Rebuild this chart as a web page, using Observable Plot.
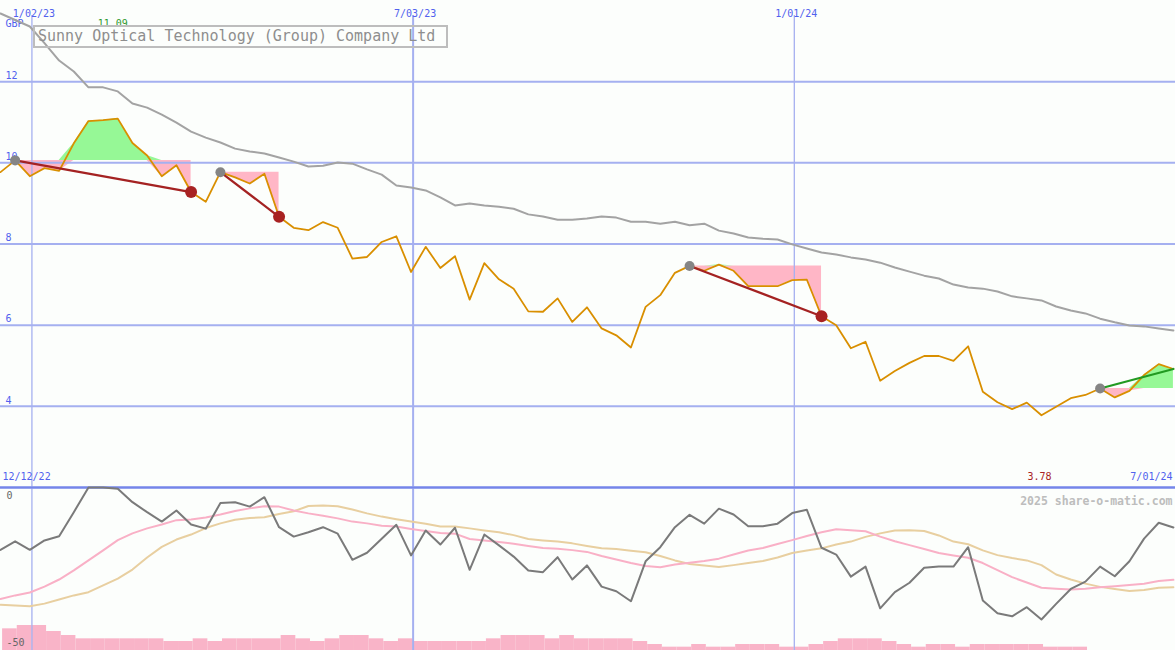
<!DOCTYPE html>
<html><head><meta charset="utf-8">
<script src="https://cdn.jsdelivr.net/npm/d3@7"></script>
<script src="https://cdn.jsdelivr.net/npm/@observablehq/plot@0.6"></script>
<style>
body{margin:0;background:#fcfefc;}
#chart{position:relative;width:1175px;height:650px;background:#fcfefc;overflow:hidden;}
#chart svg{position:absolute;left:0;}
#title{position:absolute;left:33px;top:25px;width:408px;height:19px;border:2px solid #bdbdbd;color:#8e8e8e;font:15px "DejaVu Sans Mono",monospace;line-height:19px;padding-left:3px;white-space:pre;}
</style></head><body><div id="chart"></div>
<script>
// ---- data (weekly, first week 18 Dec 2022) ----
const companyName = "Sunny Optical Technology (Group) Company Ltd";
const currency = "GBP";
const firstWeek = "2022-12-18";
const lastDay = "2024-07-01";
const prices = [9.77,10.06,9.67,9.87,9.80,10.48,11.03,11.05,11.09,10.49,
 10.18,9.67,9.94,9.28,9.04,9.77,9.64,9.49,9.73,8.67,
 8.40,8.34,8.54,8.40,7.64,7.68,8.05,8.19,7.31,7.93,
 7.41,7.70,6.63,7.53,7.13,6.90,6.34,6.33,6.66,6.08,
 6.44,5.92,5.75,5.45,6.45,6.74,7.29,7.46,7.34,7.49,
 7.34,6.96,6.96,6.96,7.11,7.12,6.22,6.00,5.43,5.59,
 4.63,4.87,5.07,5.24,5.24,5.12,5.48,4.36,4.10,3.93,
 4.09,3.78,3.99,4.20,4.28,4.44,4.22,4.38,4.77,5.04,
 4.92];
const movingAvg = [13.68,13.52,13.36,12.95,12.52,12.25,11.86,11.86,11.76,11.46,
 11.36,11.19,10.99,10.77,10.62,10.50,10.35,10.28,10.23,10.13,
 10.03,9.91,9.93,10.01,9.98,9.84,9.71,9.44,9.39,9.32,
 9.15,8.95,9.00,8.95,8.92,8.87,8.73,8.68,8.60,8.60,
 8.63,8.68,8.65,8.55,8.55,8.50,8.55,8.46,8.50,8.33,
 8.26,8.16,8.13,8.11,7.99,7.89,7.79,7.74,7.67,7.62,
 7.54,7.42,7.32,7.22,7.15,7.00,6.93,6.90,6.83,6.71,
 6.66,6.61,6.46,6.36,6.29,6.16,6.07,5.99,5.97,5.92,
 5.87];
const oscillator = [-21.2,-18.3,-21.2,-18.0,-16.6,-8.4,0,0,-0.4,-5.0,
 -8.4,-11.6,-7.8,-12.6,-14.0,-5.3,-5.0,-6.5,-3.3,-13.5,
 -16.7,-15.2,-13.5,-15.7,-24.6,-22.2,-17.4,-12.7,-23.1,-14.6,
 -19.4,-13.7,-28.0,-16.0,-19.7,-23.5,-28.2,-28.8,-23.7,-31.3,
 -26.5,-33.7,-35.3,-38.7,-25.1,-20.3,-13.5,-9.3,-12.3,-7.2,
 -9.2,-13.2,-13.2,-12.3,-8.7,-7.6,-20.5,-22.8,-30.3,-26.9,
 -41.1,-35.6,-32.4,-27.3,-26.9,-26.9,-20.3,-38.4,-42.8,-43.8,
 -40.7,-44.9,-39.6,-34.5,-32.0,-26.9,-30.2,-25.1,-17.4,-12.0,
 -13.6];
const oscFast = [-37.9,-36.7,-35.7,-33.7,-31.3,-28.2,-24.8,-21.4,-17.9,-15.6,
 -13.9,-12.6,-11.1,-10.9,-10.2,-9.2,-8.0,-7.1,-6.4,-6.5,
 -7.8,-8.8,-9.6,-10.5,-11.6,-12.2,-13.0,-13.3,-14.1,-14.8,
 -15.5,-15.7,-17.5,-18.0,-18.5,-19.1,-19.9,-20.6,-20.8,-21.3,
 -21.9,-23.3,-24.5,-25.7,-26.7,-27.1,-26.2,-25.6,-25.0,-24.2,
 -22.8,-21.4,-20.6,-19.2,-17.9,-16.5,-15.2,-14.2,-14.5,-14.9,
 -16.7,-18.3,-19.6,-20.9,-22.3,-23.1,-23.9,-25.7,-28.1,-30.5,
 -32.3,-34.1,-34.4,-34.7,-34.4,-33.9,-33.6,-33.2,-32.7,-31.8,
 -31.4];
const oscSlow = [-39.9,-40.1,-40.4,-39.5,-38.1,-36.7,-35.6,-33.3,-31.0,-27.9,
 -23.8,-20.2,-17.7,-16.0,-13.8,-12.2,-11.0,-10.4,-10.1,-9.0,
 -8.1,-6.3,-6.1,-6.4,-7.5,-8.8,-9.9,-10.8,-11.6,-12.3,
 -13.3,-13.3,-13.9,-14.6,-15.2,-16.2,-17.5,-18.0,-18.4,-19.0,
 -19.9,-20.7,-20.9,-21.5,-22.0,-23.3,-24.8,-26.0,-26.5,-27.0,
 -26.4,-25.7,-25.0,-23.8,-22.3,-21.4,-20.7,-19.4,-18.4,-16.8,
 -15.6,-14.6,-14.5,-14.8,-16.3,-18.4,-19.3,-21.4,-23.0,-24.0,
 -24.8,-26.4,-29.6,-31.3,-32.7,-33.8,-34.5,-35.2,-34.9,-34.1,
 -33.9];
const volume = [6.5,7.5,7.5,5.7,4.5,3.5,3.5,3.5,3.5,3.5,
 3.5,2.7,2.7,3.5,2.7,3.5,3.5,3.5,3.5,4.5,
 3.5,2.7,3.5,4.5,4.5,3.5,2.7,3.5,2.7,2.7,
 2.7,2.7,2.7,3.5,4.5,4.5,4.5,3.5,4.5,3.5,
 3.5,3.5,3.5,2.7,1.8,1.0,1.0,1.8,1.0,1.0,
 1.8,1.8,1.8,1.0,1.0,1.8,2.7,3.5,3.5,3.5,
 2.7,1.8,1.0,1.8,1.8,1.0,1.8,1.8,1.8,1.8,
 1.8,1.0,1.0,1.0,0,0,0,0,0,0,
 0];
const gridDates = ["2023-01-02","2023-07-03","2024-01-01"];
const gridLabels = ["1/02/23","7/03/23","1/01/24"];
const gridMajor = [false,true,false];
const priceTicks = [4,6,8,10,12];
const oscTicks = [0,-50];
const trendStarts = [1,15,47,75];
const trendEnds = [13,19,56,80];
const startLabel = "12/12/22";
const endLabel = "7/01/24";
const copyright = "2025 share-o-matic.com";

// ---- derived tables ----
const DAY = 864e5;
const t0 = new Date(firstWeek + "T00:00:00Z").getTime();
const dates = prices.map((_, i) => new Date(t0 + i * 7 * DAY));
const xDomain = [new Date(t0), new Date(lastDay + "T00:00:00Z")];
const rows = prices.map((p, i) => ({date: dates[i], next: new Date(dates[i].getTime() + 7 * DAY),
  price: p, avg: movingAvg[i], osc: oscillator[i], fast: oscFast[i], slow: oscSlow[i], vol: volume[i]}));
const grid = gridDates.map((d, i) => ({date: new Date(d + "T00:00:00Z"), label: gridLabels[i], major: gridMajor[i]}));
const trends = trendStarts.map((s, j) => ({seg: j, s, e: trendEnds[j], up: prices[trendEnds[j]] > prices[s]}));
const fillRows = trends.flatMap(t => d3.range(t.s, t.e + 1).map(i => ({seg: t.seg, date: dates[i], price: prices[i], level: prices[t.s]})));
const trendRows = trends.flatMap(t => [t.s, t.e].map(i => ({seg: t.seg, up: t.up, date: dates[i], price: prices[i]})));
const startDots = trends.map(t => ({date: dates[t.s], price: prices[t.s]}));
const endDots = trends.filter(t => !t.up).map(t => ({date: dates[t.e], price: prices[t.e]}));
const iMax = d3.maxIndex(prices), iMin = d3.minIndex(prices);

const FONT = "DejaVu Sans Mono, monospace";
const BLUE = "#5161ee";
const GRID = "#a5b0f0";
const W = 1175, TOP_H = 487, BOT_H = 163;
const baseStyle = {background: "transparent", overflow: "visible", fontFamily: FONT, fontSize: "10px"};

const topPlot = Plot.plot({
  width: W, height: TOP_H, margin: 0, style: baseStyle,
  x: {type: "utc", domain: xDomain, axis: null},
  y: {domain: [2, 14], axis: null},
  marks: [
    Plot.areaY(fillRows, {x: "date", y1: "level", y2: d => Math.min(d.price, d.level), z: "seg", fill: "#ffb6c6"}),
    Plot.areaY(fillRows, {x: "date", y1: "level", y2: d => Math.max(d.price, d.level), z: "seg", fill: "#96f896"}),
    Plot.ruleY(priceTicks, {stroke: GRID, strokeWidth: 2}),
    Plot.ruleY([2], {stroke: "#7585ea", strokeWidth: 2}),
    Plot.ruleX(grid.filter(d => d.major), {x: "date", y1: 2, y2: 13.63, stroke: GRID, strokeWidth: 2}),
    Plot.ruleX(grid.filter(d => !d.major), {x: "date", y1: 2, y2: 13.63, stroke: GRID, strokeWidth: 1.3}),
    Plot.text(grid, {x: "date", text: "label", frameAnchor: "top", dy: 9, dx: 2, fill: BLUE}),
    Plot.text([currency], {frameAnchor: "top-left", dx: 5, dy: 19, textAnchor: "start", fill: BLUE}),
    Plot.text(priceTicks, {y: d => d, text: d => String(d), frameAnchor: "left", dx: 5, dy: -6, textAnchor: "start", fill: BLUE}),
    Plot.text([prices[iMax]], {x: dates[iMax], text: d => d.toFixed(2), frameAnchor: "top", dy: 19, dx: -5, fill: "#2e9a2e"}),
    Plot.text([prices[iMin]], {x: dates[iMin], text: d => d.toFixed(2), frameAnchor: "bottom", dy: -8, dx: -2, fill: "#a82222"}),
    Plot.text([startLabel], {frameAnchor: "bottom-left", dx: 2, dy: -8, textAnchor: "start", fill: BLUE}),
    Plot.text([endLabel], {frameAnchor: "bottom-right", dx: -3, dy: -8, textAnchor: "end", fill: BLUE}),
    Plot.line(rows, {x: "date", y: "avg", stroke: "#a3a3a3", strokeWidth: 2}),
    Plot.line(rows, {x: "date", y: "price", stroke: "#d98f00", strokeWidth: 1.8}),
    Plot.line(trendRows.filter(d => !d.up), {x: "date", y: "price", z: "seg", stroke: "#a42222", strokeWidth: 2.2}),
    Plot.line(trendRows.filter(d => d.up), {x: "date", y: "price", z: "seg", stroke: "#229a22", strokeWidth: 2.2}),
    Plot.dot(startDots, {x: "date", y: "price", r: 5, fill: "#858585"}),
    Plot.dot(endDots, {x: "date", y: "price", r: 6, fill: "#a82222"})
  ]
});
topPlot.style.top = "0px";

const volPlot = Plot.plot({
  width: W, height: BOT_H, margin: 0, style: baseStyle,
  x: {type: "utc", domain: xDomain, axis: null},
  y: {domain: [0, 48.9], axis: null},
  marks: [
    Plot.rectY(rows, {x1: d => new Date(d.date.getTime() + DAY), x2: d => new Date(d.next.getTime() + DAY), y: "vol", fill: "#f9b4c8"})
  ]
});
volPlot.style.top = TOP_H + "px";

const botPlot = Plot.plot({
  width: W, height: BOT_H, margin: 0, style: baseStyle,
  x: {type: "utc", domain: xDomain, axis: null},
  y: {domain: [-55.44, 0], axis: null},
  marks: [
    Plot.ruleX(grid.filter(d => d.major), {x: "date", stroke: GRID, strokeWidth: 2}),
    Plot.ruleX(grid.filter(d => !d.major), {x: "date", stroke: GRID, strokeWidth: 1.3}),
    Plot.ruleY([0], {stroke: "#7585ea", strokeWidth: 2}),
    Plot.line(rows, {x: "date", y: "slow", stroke: "#e8cfa0", strokeWidth: 2}),
    Plot.line(rows, {x: "date", y: "fast", stroke: "#f9b0c6", strokeWidth: 2}),
    Plot.line(rows, {x: "date", y: "osc", stroke: "#7a7a7a", strokeWidth: 2}),
    Plot.text(oscTicks, {y: d => d, text: d => String(d), frameAnchor: "left", dx: 6, dy: 8, textAnchor: "start", fill: "#666666"}),
    Plot.text([copyright], {frameAnchor: "top-right", dx: -3, dy: 9, textAnchor: "end", fill: "#bdbdbd", fontWeight: "bold", fontSize: 11.5})
  ]
});
botPlot.style.top = TOP_H + "px";

const chart = document.getElementById("chart");
chart.append(topPlot, volPlot, botPlot);
const title = document.createElement("div");
title.id = "title";
title.textContent = companyName;
chart.append(title);
</script>
</body></html>
